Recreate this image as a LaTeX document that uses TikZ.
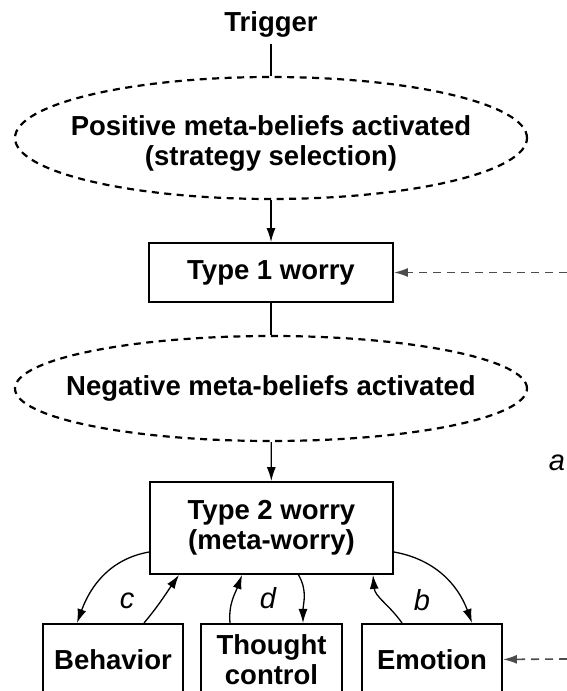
\documentclass[tikz,border=0pt]{standalone}
\usepackage{fontspec}
\setmainfont{Liberation Sans}
\usetikzlibrary{shapes.geometric,arrows.meta}

\newcommand{\boxfont}{\fontsize{27.5}{30}\selectfont\bfseries}
\newcommand{\tagfont}{\fontsize{29}{30}\selectfont\itshape}

\tikzset{
    box/.style={draw, line width=1.8pt, font=\boxfont, align=center, inner sep=0pt},
    belief/.style={draw, ellipse, line width=2.2pt, dash pattern=on 7pt off 5.5pt, inner sep=0pt},
    belieftext/.style={font=\boxfont, align=center},
    link/.style={line width=1.3pt, -{Latex[length=14pt,width=9pt]}},
    feed/.style={link, black!70, line width=1.6pt, dash pattern=on 8pt off 6pt},
    tag/.style={font=\tagfont}
}

\begin{document}
\begin{tikzpicture}[x=1pt,y=1pt]
    \useasboundingbox (0,0) rectangle (567,691);
    \clip (0,0) rectangle (567,691);

    \node[font=\boxfont, inner sep=7pt] (trigger) at (271,667) {Trigger};
    \node[belief, minimum width=512pt, minimum height=122pt,
          label={[belieftext, yshift=-5pt]center:{Positive meta-beliefs activated\\(strategy selection)}}] (pos) at (271,553) {};
    \node[box, minimum width=244pt, minimum height=59pt] (t1) at (271,418.5) {Type 1 worry};
    \node[belief, minimum width=512pt, minimum height=105pt,
          label={[belieftext]center:Negative meta-beliefs activated}] (neg) at (271,302.5) {};
    \node[box, minimum width=243pt, minimum height=92pt] (t2) at (271.5,163) {Type 2 worry\\(meta-worry)};

    \node[box, anchor=north, minimum width=140pt, minimum height=72pt] (beh) at (113,68) {Behavior};
    \node[box, anchor=north, minimum width=141pt, minimum height=72pt] (thought) at (271.5,68) {Thought\\control};
    \node[box, anchor=north, minimum width=140pt, minimum height=72pt] (emo) at (432,68) {Emotion};

    \coordinate (inT1) at (567,418.5);
    \coordinate (inEmo) at (567,32);

    % main chain
    \draw[line width=1.3pt] (trigger) -- (pos);
    \draw[link] (pos) -- (t1);
    \draw[line width=1.3pt] (t1) -- (neg);
    \draw[link] (neg) -- (t2);

    % loops below meta-worry
    \draw[link] ([yshift=-24pt]t2.west) to[out=190,in=70] ([xshift=-36pt]beh.north);
    \draw[link] ([xshift=31pt]beh.north) to[out=50,in=235] ([xshift=-92.5pt]t2.south);
    \draw[link] ([xshift=-41.5pt]thought.north) to[out=95,in=250] ([xshift=-29.5pt]t2.south);
    \draw[link] ([xshift=27pt]t2.south) to[out=-60,in=90] ([xshift=31.5pt]thought.north);
    \draw[link] ([xshift=-30pt]emo.north) to[out=125,in=-85] ([xshift=101.5pt]t2.south);
    \draw[link] ([yshift=-24pt]t2.east) to[out=-10,in=110] ([xshift=40pt]emo.north);

    \node[tag] (lc) at (127,90) {c};
    \node[tag] (ld) at (268,93) {d};
    \node[tag] (lb) at (422,91) {b};
    \node[tag] (la) at (557,228) {a};

    % feedback
    \draw[feed] (inT1) -- (t1);
    \draw[feed] (inEmo) -- (emo);
\end{tikzpicture}
\end{document}
